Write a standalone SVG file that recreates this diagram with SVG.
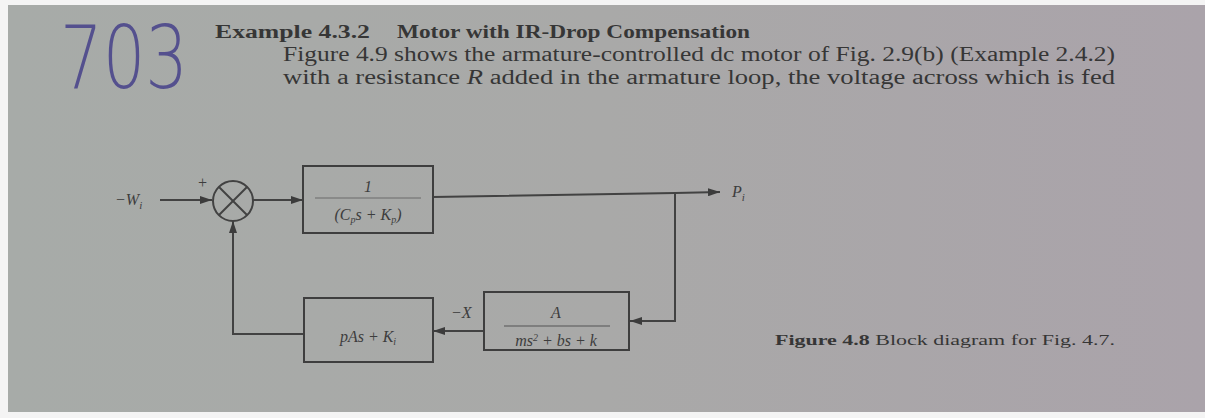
<svg xmlns="http://www.w3.org/2000/svg" width="1205" height="418" viewBox="0 0 1205 418">
<defs>
<linearGradient id="bg" x1="0" y1="0" x2="1" y2="0">
<stop offset="0" stop-color="#a7aba8"/>
<stop offset="0.5" stop-color="#a9a9a8"/>
<stop offset="1" stop-color="#aaa3aa"/>
</linearGradient>
<marker id="arr" viewBox="0 0 12 8" refX="12" refY="4" markerWidth="12" markerHeight="8" markerUnits="userSpaceOnUse" orient="auto">
<path d="M0,0 L12,4 L0,8 z" fill="#3c3c3c"/>
</marker>
<style>
.ln{stroke:#424242;stroke-width:2;fill:none}
.box{stroke:#3e3e3e;stroke-width:2;fill:none}
.t{font-family:"Liberation Serif",serif;fill:#363636}
.b{font-weight:bold}
.m{font-family:"Liberation Serif",serif;fill:#3d3d3d;font-style:italic;font-size:16px}
.hw{font-family:"DejaVu Sans",sans-serif;fill:#54508e;font-weight:200}
</style>
</defs>
<rect width="1205" height="418" fill="#f4f4f4"/>
<rect x="8" y="5" width="1197" height="407" fill="url(#bg)"/>

<g id="handwriting">
<text class="hw" x="60" y="70" font-size="60" textLength="128" lengthAdjust="spacingAndGlyphs" transform="translate(0,-13) scale(1,1.45)">703</text>
</g>

<g id="body-text">
<text class="t b" x="215" y="38" font-size="18" textLength="155" lengthAdjust="spacingAndGlyphs">Example 4.3.2</text>
<text class="t b" x="397" y="38" font-size="18" textLength="353" lengthAdjust="spacingAndGlyphs">Motor with IR-Drop Compensation</text>
<text class="t" x="283" y="61" font-size="20" textLength="832" lengthAdjust="spacingAndGlyphs">Figure 4.9 shows the armature-controlled dc motor of Fig. 2.9(b) (Example 2.4.2)</text>
<text class="t" x="283" y="84" font-size="20" textLength="832" lengthAdjust="spacingAndGlyphs">with a resistance <tspan font-style="italic">R</tspan> added in the armature loop, the voltage across which is fed</text>
</g>

<g id="connectors">
<line class="ln" x1="160" y1="200" x2="212" y2="200" marker-end="url(#arr)"/>
<line class="ln" x1="253" y1="200" x2="303" y2="200" marker-end="url(#arr)"/>
<polyline class="ln" points="433,197 675,193 720,192" marker-end="url(#arr)"/>
<polyline class="ln" points="675,193 675,321 630,321" marker-end="url(#arr)"/>
<line class="ln" x1="483" y1="331" x2="433" y2="331" marker-end="url(#arr)"/>
<polyline class="ln" points="303,334 233,334 233,221" marker-end="url(#arr)"/>
</g>

<g id="input-label">
<text class="m" x="115" y="205">−W<tspan font-size="11" dy="4">i</tspan></text>
<text class="m" x="197" y="188" font-size="14" font-style="normal">+</text>
</g>

<g id="summing-junction">
<circle cx="233" cy="201" r="20" class="ln"/>
<line class="ln" x1="219" y1="187" x2="247" y2="215"/>
<line class="ln" x1="247" y1="187" x2="219" y2="215"/>
</g>

<g id="plant-block">
<rect class="box" x="303" y="166" width="130" height="67"/>
<text class="m" x="368" y="192" text-anchor="middle" font-style="normal">1</text>
<line x1="315" y1="198" x2="421" y2="198" stroke="#6a6a6a" stroke-width="1"/>
<text class="m" x="368" y="220" text-anchor="middle">(C<tspan font-size="10" dy="3">p</tspan><tspan dy="-3">s + K</tspan><tspan font-size="10" dy="3">p</tspan><tspan dy="-3">)</tspan></text>
</g>

<g id="output-label">
<text class="m" x="732" y="197">P<tspan font-size="11" dy="4">i</tspan></text>
</g>

<g id="actuator-block">
<rect class="box" x="484" y="292" width="145" height="58"/>
<text class="m" x="556" y="318" text-anchor="middle">A</text>
<line x1="504" y1="326" x2="610" y2="326" stroke="#555" stroke-width="1.2"/>
<text class="m" x="556" y="346" text-anchor="middle">ms<tspan font-size="10" dy="-5">2</tspan><tspan dy="5"> + bs + k</tspan></text>
</g>

<g id="x-label">
<text class="m" x="451" y="318">−X</text>
</g>

<g id="feedback-block">
<rect class="box" x="304" y="298" width="129" height="64"/>
<text class="m" x="368" y="342" text-anchor="middle">pAs + K<tspan font-size="10" dy="3">i</tspan></text>
</g>

<g id="caption">
<text class="t" x="775" y="345" font-size="15" textLength="340" lengthAdjust="spacingAndGlyphs"><tspan font-weight="bold">Figure 4.8</tspan>    Block diagram for Fig. 4.7.</text>
</g>
</svg>
